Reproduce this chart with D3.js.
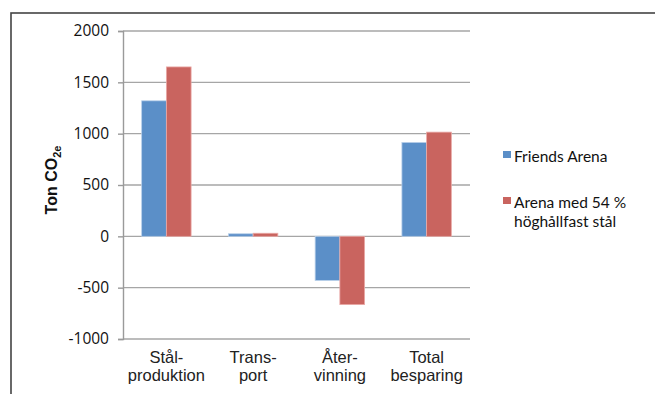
<!DOCTYPE html>
<html>
<head>
<meta charset="utf-8">
<script src="https://cdn.jsdelivr.net/npm/d3@7"></script>
<style>
  html, body { margin: 0; padding: 0; background: #fff; }
  svg { display: block; }
</style>
</head>
<body>
<svg id="chart" width="655" height="394"></svg>
<script>
// Categories (two-line labels) and CO2e values per series
const categories = [
  ["Stål-", "produktion"],
  ["Trans-", "port"],
  ["Åter-", "vinning"],
  ["Total", "besparing"]
];
const seriesNames = ["Friends Arena", ["Arena med 54 %", "höghållfast stål"]];
const friendsArena = [1320, 25, -430, 915];
const arena54 = [1650, 30, -665, 1015];
const yTicks = [-1000, -500, 0, 500, 1000, 1500, 2000];
const colors = ["#5b8fc8", "#c9645f"];

const svg = d3.select("#chart");

// Outer chart frame (left and top edges visible in the view)
svg.append("rect")
  .attr("x", 11).attr("y", 13)
  .attr("width", 700).attr("height", 420)
  .attr("fill", "none")
  .attr("stroke", "#444")
  .attr("stroke-width", 1.6);

const plot = { left: 123, right: 470, top: 31, bottom: 339 };

const y = d3.scaleLinear().domain([-1000, 2000]).range([plot.bottom, plot.top]);
const x0 = d3.scaleBand()
  .domain(d3.range(categories.length))
  .range([plot.left, plot.right])
  .paddingInner(0.43).paddingOuter(0.215);
const x1 = d3.scaleBand().domain([0, 1]).range([0, x0.bandwidth()]);

// Horizontal gridlines
svg.append("g")
  .selectAll("line")
  .data(yTicks)
  .join("line")
  .attr("x1", plot.left).attr("x2", plot.right)
  .attr("y1", d => y(d)).attr("y2", d => y(d))
  .attr("stroke", "#a6a6a6")
  .attr("stroke-width", 1.4);

// Y axis with outward ticks; plain hyphen for negatives
const yAxis = d3.axisLeft(y).tickValues(yTicks).tickSize(5).tickPadding(9).tickFormat(d => String(d));
const gy = svg.append("g").attr("transform", `translate(${plot.left},0)`).call(yAxis);
gy.select(".domain").attr("stroke", "#9a9a9a").attr("stroke-width", 1.4);
gy.selectAll(".tick line").attr("stroke", "#9a9a9a").attr("stroke-width", 1.4);
gy.selectAll(".tick text")
  .attr("font-family", "'Open Sans', sans-serif")
  .attr("font-size", 15.5)
  .attr("fill", "#111");

// Bars
const series = [friendsArena, arena54];
series.forEach((vals, si) => {
  svg.append("g")
    .selectAll("rect")
    .data(vals)
    .join("rect")
    .attr("x", (d, i) => x0(i) + x1(si))
    .attr("width", x1.bandwidth())
    .attr("y", d => y(Math.max(0, d)))
    .attr("height", d => Math.abs(y(d) - y(0)))
    .attr("fill", colors[si])
    .attr("stroke", si === 0 ? "#b9d0ea" : "#eaa9a6")
    .attr("stroke-width", 0.8);
});

// Category labels below the plot
const catG = svg.append("g")
  .attr("font-family", "'Liberation Sans', Arial, sans-serif")
  .attr("font-size", 16.5)
  .attr("fill", "#222")
  .attr("text-anchor", "middle");
categories.forEach((lines, i) => {
  const cx = x0(i) + x0.bandwidth() / 2;
  const t = catG.append("text").attr("x", cx).attr("y", 363);
  lines.forEach((ln, k) => {
    t.append("tspan").attr("x", cx).attr("dy", k === 0 ? 0 : 18).text(ln);
  });
});

// Y axis title with subscript
const yt = svg.append("text")
  .attr("transform", "translate(57,180) rotate(-90)")
  .attr("text-anchor", "middle")
  .attr("font-family", "'Liberation Sans', Arial, sans-serif")
  .attr("font-weight", "bold")
  .attr("font-size", 16)
  .attr("fill", "#111");
yt.append("tspan").text("Ton CO");
yt.append("tspan").attr("font-size", 11).attr("dy", 4).text("2e");

// Legend
const leg = svg.append("g")
  .attr("font-family", "Lato, 'Open Sans', sans-serif")
  .attr("font-size", 15.5)
  .attr("fill", "#111");
const legY = [151, 197];
seriesNames.forEach((name, i) => {
  leg.append("rect")
    .attr("x", 503).attr("y", legY[i])
    .attr("width", 8).attr("height", 7)
    .attr("fill", colors[i]);
  const lines = Array.isArray(name) ? name : [name];
  lines.forEach((ln, k) => {
    leg.append("text")
      .attr("x", 514)
      .attr("y", legY[i] + 11 + k * 18.8)
      .text(ln);
  });
});
</script>
</body>
</html>
